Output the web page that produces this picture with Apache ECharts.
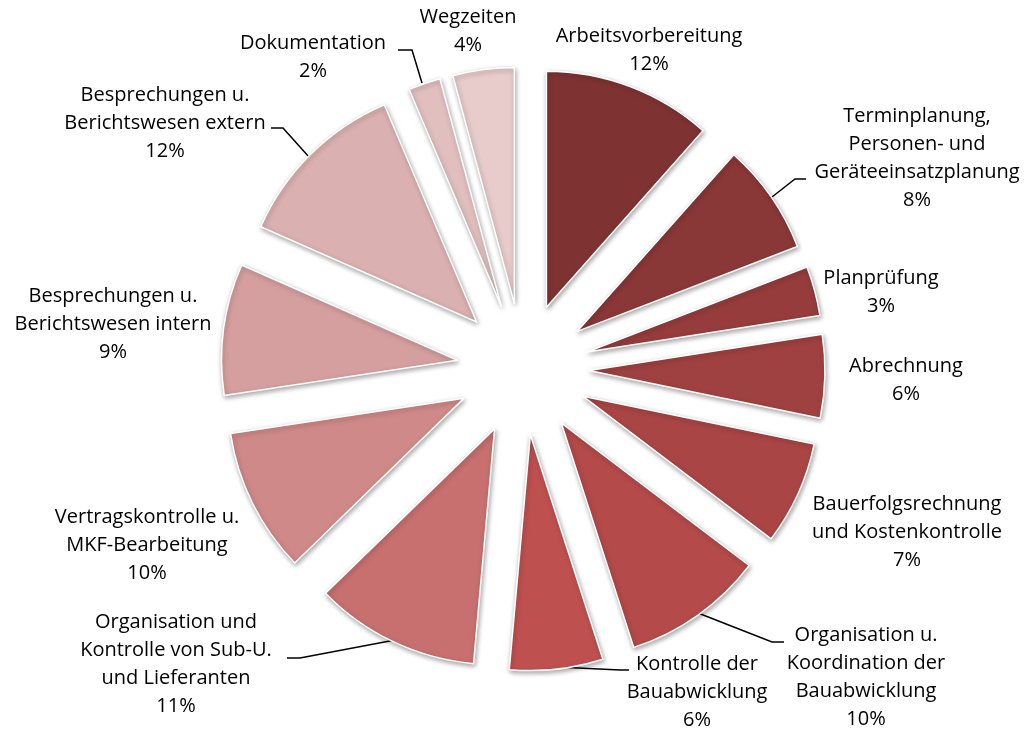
<!DOCTYPE html>
<html>
<head>
<meta charset="utf-8">
<script src="https://cdn.jsdelivr.net/npm/echarts@6/dist/echarts.min.js"></script>
<style>
html, body { margin: 0; padding: 0; background: #fff; }
#main { width: 1027px; height: 733px; }
</style>
</head>
<body>
<div id="main"></div>
<script>
// categories, clockwise from 12 o'clock
var names = [
	'Arbeitsvorbereitung',
	'Terminplanung,\nPersonen- und\nGeräteeinsatzplanung',
	'Planprüfung',
	'Abrechnung',
	'Bauerfolgsrechnung\nund Kostenkontrolle',
	'Organisation u.\nKoordination der\nBauabwicklung',
	'Kontrolle der\nBauabwicklung',
	'Organisation und\nKontrolle von Sub-U.\nund Lieferanten',
	'Vertragskontrolle u.\nMKF-Bearbeitung',
	'Besprechungen u.\nBerichtswesen intern',
	'Besprechungen u.\nBerichtswesen extern',
	'Dokumentation',
	'Wegzeiten'
];
// share in %
var values = [11.55, 7.6, 3.4, 5.7, 7.1, 9.7, 6.4, 11.3, 9.9, 9.0, 12.0, 2.2, 4.2];
var colors = [
	'#7F3232', '#8A3737', '#963C3C', '#A04141', '#AA4545', '#B44A4A', '#BF5050',
	'#C87070', '#D08989', '#D69F9F', '#DBB0B0', '#E1BFBF', '#E8CBCB'
];
// label block centres (px)
var labelPos = [
	[649, 50], [917, 158], [881, 292], [906, 380], [907, 532], [866, 677], [697, 692],
	[176, 664], [147, 545], [113, 324], [165, 123], [313, 57], [468, 31]
];
// leader lines (null = none)
var leaderPts = [
	null,
	[[772, 197], [795, 179], [806, 179]],
	null, null, null,
	[[698, 613], [772, 642], [784, 642]],
	[[557, 667], [620, 670], [629, 670]],
	[[395, 640], [300, 658], [287, 658]],
	null, null,
	[[309, 157], [283, 128], [271, 128]],
	[[422, 83], [412, 50], [398, 50]],
	null
];

var slices = names.map(function(n, i) {
	return {
		name: n,
		value: values[i],
		selected: true,
		itemStyle: { color: colors[i] }
	};
});
// same values again, only carrying the labels (not exploded)
var labelItems = names.map(function(n, i) {
	return {
		name: n,
		value: values[i],
		labelLine: { show: !!leaderPts[i] }
	};
});

var myChart = echarts.init(document.getElementById('main'));
myChart.setOption({
	animation: false,
	series: [{
		type: 'pie',
		center: [523, 369],
		radius: [0, 236],
		startAngle: 90,
		clockwise: true,
		selectedMode: 'multiple',
		selectedOffset: 66,
		silent: true,
		label: { show: false },
		labelLine: { show: false },
		itemStyle: {
			borderColor: '#fff',
			borderWidth: 1.5,
			shadowColor: 'rgba(0,0,0,0.35)',
			shadowBlur: 5,
			shadowOffsetX: 1,
			shadowOffsetY: 2
		},
		emphasis: { disabled: true },
		data: slices
	}, {
		type: 'pie',
		center: [523, 369],
		radius: [0, 236],
		startAngle: 90,
		clockwise: true,
		silent: true,
		percentPrecision: 2,
		avoidLabelOverlap: false,
		itemStyle: { color: 'rgba(0,0,0,0)', borderWidth: 0 },
		label: {
			show: true,
			position: 'outside',
			formatter: function(p) {
				return p.name + '\n' + Math.round(p.percent) + '%';
			},
			fontFamily: 'Open Sans',
			fontSize: 20,
			lineHeight: 28,
			color: '#000'
		},
		labelLine: {
			lineStyle: { color: '#000', width: 1.5 }
		},
		labelLayout: function(p) {
			var pos = labelPos[p.dataIndex];
			var out = {
				x: pos[0],
				y: pos[1],
				align: 'center',
				verticalAlign: 'middle'
			};
			if (leaderPts[p.dataIndex]) {
				out.labelLinePoints = leaderPts[p.dataIndex];
			}
			return out;
		},
		emphasis: { disabled: true },
		data: labelItems
	}]
});
</script>
</body>
</html>
